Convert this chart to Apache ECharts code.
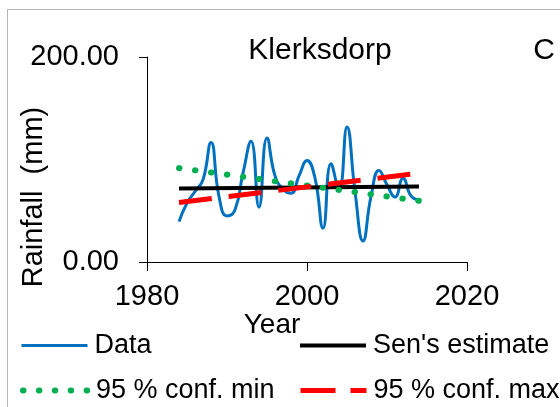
<!DOCTYPE html>
<html>
<head>
<meta charset="utf-8">
<script src="https://cdn.jsdelivr.net/npm/echarts@6/dist/echarts.min.js"></script>
<style>html,body{margin:0;padding:0;background:#fff;}#c{width:560px;height:407px;}</style>
</head>
<body>
<div id="c"></div>
<script>
var years = [1984,1985,1986,1987,1988,1989,1990,1991,1992,1993,1994,1995,1996,1997,1998,1999,2000,2001,2002,2003,2004,2005,2006,2007,2008,2009,2010,2011,2012,2013,2014];
var rainfall = [39.4,57.4,68.8,80.2,116.7,63.9,45,51,86.7,117.7,53.5,121,84,71,67,84,99,81.8,33,95.8,70.4,131.7,68.8,20.5,63.9,89.3,75.3,63.3,81.8,64.5,60.6];
var senYears = [1984, 2014];
var senValues = [71.7, 73.7];
var confMinValues = [91.6, 59.7];
var confMaxValues = [58.0, 86.7];
var xTicks = [1980, 2000, 2020];
var yTicks = [0, 200];

function pairs(xs, ys){ return xs.map(function(x,i){ return [x, ys[i]]; }); }

var FONT = 'Liberation Sans, Arial, sans-serif';
var chart = echarts.init(document.getElementById('c'), null, {renderer:'canvas'});
function legendAt(name, left, top, ls){
  return {
    data:[name], left:left, top:top, padding:0, itemWidth:66, itemHeight:20, itemGap:0,
    textStyle:{fontFamily:FONT, fontSize:27, color:'#000', padding:[0,0,0,2]},
    itemStyle:{opacity:0},
    lineStyle:ls,
    selectedMode:false
  };
}
chart.setOption({
  animation:false,
  backgroundColor:'#fff',
  grid:{left:147, right:93, top:57, bottom:145},
  title:[
    {text:'Klerksdorp', left:315, top:31, textAlign:'center', textStyle:{fontFamily:FONT, fontSize:30, fontWeight:'normal', color:'#000'}},
    {text:'C', left:539, top:31, textAlign:'center', textStyle:{fontFamily:FONT, fontSize:30, fontWeight:'normal', color:'#000'}}
  ],
  legend:[
    legendAt('Data', 20, 332, {width:3, type:'solid'}),
    legendAt("Sen's estimate", 298, 332, {width:4, type:'solid'}),
    legendAt('95 % conf. min', 20, 377, {width:6, type:[0.5,15.4], cap:'round'}),
    legendAt('95 % conf. max', 298, 377, {width:5, type:[35,15], cap:'butt'})
  ],
  graphic:[
    {type:'rect', left:5, top:7, shape:{width:600, height:500}, style:{fill:'none', stroke:'#b5b5b5', lineWidth:1}, silent:true, z:-1},
    {type:'text', x:272, y:325, style:{text:'Year', font:'28px ' + FONT, fill:'#000', textAlign:'center', textVerticalAlign:'middle'}},
    {type:'text', x:34, y:197, rotation:Math.PI/2, style:{text:'Rainfall  (mm)', font:'29px ' + FONT, fill:'#000', textAlign:'center', textVerticalAlign:'middle'}}
  ],
  xAxis:{
    type:'value', min:xTicks[0], max:xTicks[xTicks.length-1], interval:20,
    axisLine:{show:true, onZero:false, lineStyle:{color:'#000', width:1}},
    axisTick:{show:true, inside:false, length:9, lineStyle:{color:'#000'}},
    axisLabel:{fontFamily:FONT, fontSize:29, color:'#000', margin:20, formatter:function(v){return String(v);}},
    splitLine:{show:false}
  },
  yAxis:{
    type:'value', min:yTicks[0], max:yTicks[yTicks.length-1], interval:200,
    axisLine:{show:true, lineStyle:{color:'#000', width:1}},
    axisTick:{show:true, inside:false, length:8, lineStyle:{color:'#000'}},
    axisLabel:{fontFamily:FONT, fontSize:29, color:'#000', margin:28, formatter:function(v){return v.toFixed(2);}},
    splitLine:{show:false}
  },
  series:[
    {name:'Data', type:'line', data:pairs(years, rainfall), smooth:0.5, showSymbol:false, symbol:'none',
     lineStyle:{color:'#0070C0', width:3}, itemStyle:{color:'#0070C0'}},
    {name:"Sen's estimate", type:'line', data:pairs(senYears, senValues), showSymbol:false, symbol:'none',
     lineStyle:{color:'#000', width:4}, itemStyle:{color:'#000'}},
    {name:'95 % conf. min', type:'line', data:pairs(senYears, confMinValues), showSymbol:false, symbol:'none',
     lineStyle:{color:'#00B050', width:6, type:[0.5,15.6], cap:'round'}, itemStyle:{color:'#00B050'}},
    {name:'95 % conf. max', type:'line', data:pairs(senYears, confMaxValues), showSymbol:false, symbol:'none',
     lineStyle:{color:'#FF0000', width:5, type:[33,17], cap:'butt'}, itemStyle:{color:'#FF0000'}}
  ]
});
</script>
</body>
</html>
